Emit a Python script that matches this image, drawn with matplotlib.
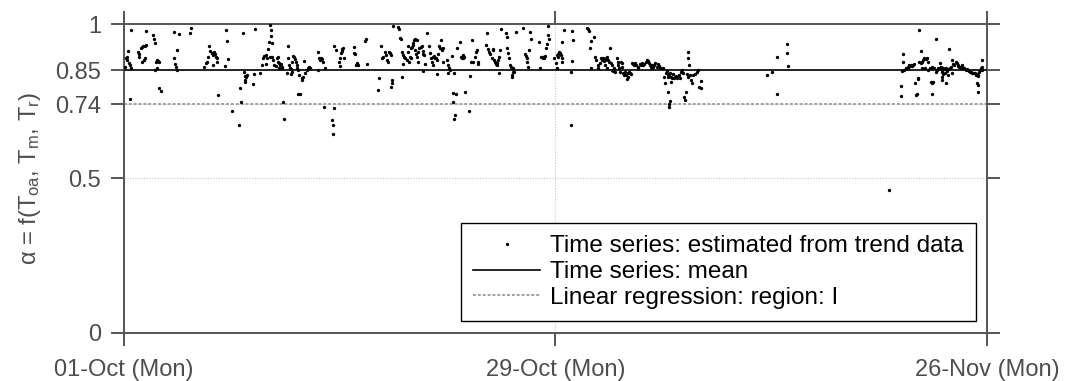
import matplotlib
matplotlib.use('Agg')
import matplotlib.pyplot as plt
import matplotlib.dates as mdates
import pandas as pd

plt.rcParams['font.family'] = ['Liberation Sans', 'DejaVu Sans']

# periodo e tick
data_inizio = '2018-10-01'
data_fine = '2018-11-26'
xtick_date = ['2018-10-01', '2018-10-29', '2018-11-26']
ytick_valori = [0, 0.5, 0.74, 0.85, 1]
ytick_etichette = ['0', '0.5', '0.74', '0.85', '1']

alpha_media = 0.85        # Time series: mean
alpha_regressione = 0.74  # Linear regression: region: I

# (giorni dal 01-Oct, alpha), una lista per tratto
tratto_1 = [
    (0.45, 0.981), (1.41, 0.976), (1.90, 0.966), (1.92, 0.951), (1.99, 0.939), (3.22, 0.973),
    (3.57, 0.968), (4.35, 0.986), (4.30, 0.970), (6.60, 0.979), (6.70, 0.944), (7.74, 0.970),
    (8.48, 0.983), (0.13, 0.889), (0.22, 0.894), (0.26, 0.913), (0.17, 0.883), (0.30, 0.873),
    (0.39, 0.867), (0.43, 0.859), (0.06, 0.862), (0.93, 0.910), (0.99, 0.902), (1.08, 0.921),
    (1.17, 0.924), (1.25, 0.929), (1.36, 0.930), (1.43, 0.932), (0.99, 0.894), (1.19, 0.878),
    (1.30, 0.883), (1.34, 0.889), (2.08, 0.878), (2.16, 0.883), (2.23, 0.880), (2.29, 0.878),
    (2.03, 0.851), (2.12, 0.857), (2.29, 0.792), (2.38, 0.783), (0.39, 0.757), (3.24, 0.891),
    (3.31, 0.869), (3.37, 0.862), (3.42, 0.851), (3.46, 0.916), (5.21, 0.862), (5.30, 0.873),
    (5.41, 0.878), (5.47, 0.894), (5.54, 0.929), (5.58, 0.913), (5.69, 0.905), (5.80, 0.900),
    (5.90, 0.902), (5.97, 0.894), (6.01, 0.889), (5.84, 0.910), (5.75, 0.867), (6.06, 0.878),
    (6.10, 0.770), (6.57, 0.865), (6.73, 0.886), (7.53, 0.792), (7.57, 0.746), (6.99, 0.718),
    (7.46, 0.673), (7.79, 0.846), (7.85, 0.833), (7.92, 0.829), (7.98, 0.835), (7.87, 0.819),
    (7.87, 0.811), (8.39, 0.806), (8.44, 0.837), (8.82, 0.843), (8.98, 0.867), (9.04, 0.889),
    (9.08, 0.897),
]
tratto_2 = [
    (9.47, 0.997), (9.54, 0.980), (9.54, 0.962), (9.41, 0.943), (9.63, 0.939), (9.32, 0.918),
    (9.19, 0.900), (9.26, 0.889), (9.19, 0.870), (9.47, 0.894), (9.63, 0.892), (9.69, 0.883),
    (9.76, 0.867), (9.84, 0.865), (9.93, 0.889), (9.97, 0.878), (10.02, 0.894), (10.06, 0.873),
    (10.12, 0.867), (10.19, 0.869), (10.23, 0.862), (10.27, 0.856), (10.06, 0.856), (10.62, 0.929),
    (10.66, 0.889), (10.73, 0.867), (10.77, 0.859), (10.82, 0.853), (10.88, 0.846), (10.56, 0.840),
    (10.84, 0.837), (10.92, 0.878), (10.99, 0.897), (11.05, 0.894), (11.10, 0.887), (11.14, 0.878),
    (11.20, 0.867), (11.25, 0.856), (11.31, 0.851), (11.38, 0.835), (11.53, 0.826), (11.57, 0.819),
    (11.64, 0.829), (11.75, 0.840), (11.85, 0.851), (11.92, 0.859), (12.01, 0.862), (12.07, 0.856),
    (11.70, 0.880), (11.31, 0.775), (11.42, 0.774), (10.32, 0.746), (10.38, 0.691), (12.61, 0.908),
    (12.65, 0.889), (12.72, 0.883), (12.78, 0.889), (12.83, 0.886), (12.89, 0.878), (12.57, 0.851),
    (13.04, 0.856), (12.98, 0.731), (13.63, 0.727), (13.52, 0.689), (13.58, 0.673), (13.54, 0.644),
    (13.65, 0.929), (13.74, 0.916), (14.02, 0.889), (14.08, 0.905), (14.12, 0.912), (14.17, 0.918),
    (14.23, 0.921), (14.30, 0.889), (14.02, 0.865), (13.95, 0.878), (14.95, 0.927), (14.93, 0.907),
    (14.99, 0.902), (15.10, 0.873), (15.03, 0.867), (15.21, 0.867), (15.68, 0.953), (15.64, 0.945),
    (15.75, 0.869), (16.68, 0.929), (16.72, 0.889), (16.83, 0.894), (16.94, 0.908), (16.98, 0.900),
    (17.05, 0.883), (17.11, 0.878), (17.20, 0.908), (17.26, 0.907), (17.33, 0.900), (16.55, 0.826),
    (16.50, 0.786), (17.33, 0.797), (17.37, 0.808), (17.41, 0.819), (17.48, 0.995), (17.80, 0.989),
    (17.87, 0.984), (17.91, 0.956), (17.98, 0.951), (18.02, 0.908), (18.08, 0.869), (18.13, 0.900),
    (18.19, 0.894), (18.23, 0.889), (18.34, 0.883), (18.41, 0.930), (18.45, 0.910), (18.49, 0.878),
    (18.06, 0.828),
]
tratto_3 = [
    (18.60, 0.921), (18.67, 0.927), (18.73, 0.932), (18.82, 0.948), (18.88, 0.951), (19.04, 0.948),
    (18.78, 0.937), (18.88, 0.916), (18.95, 0.902), (18.99, 0.894), (19.10, 0.908), (19.17, 0.921),
    (19.25, 0.927), (19.32, 0.929), (19.38, 0.912), (19.43, 0.902), (19.47, 0.900), (19.10, 0.878),
    (18.62, 0.889), (18.56, 0.894), (19.68, 0.970), (19.81, 0.929), (19.86, 0.905), (19.90, 0.889),
    (19.97, 0.878), (20.03, 0.867), (20.07, 0.894), (20.12, 0.897), (20.18, 0.891), (20.25, 0.889),
    (20.29, 0.883), (20.40, 0.902), (20.46, 0.930), (20.51, 0.921), (20.55, 0.948), (20.61, 0.916),
    (20.68, 0.921), (20.72, 0.878), (19.53, 0.869), (19.43, 0.848), (20.33, 0.838), (20.98, 0.885),
    (21.05, 0.867), (21.11, 0.856), (21.26, 0.896), (21.16, 0.851), (21.00, 0.843), (21.42, 0.840),
    (21.59, 0.921), (21.80, 0.941), (21.85, 0.894), (21.91, 0.891), (21.98, 0.900), (22.06, 0.894),
    (22.02, 0.889), (21.33, 0.778), (21.52, 0.774), (21.37, 0.748), (22.13, 0.781), (21.48, 0.707),
    (21.44, 0.691), (22.41, 0.720), (22.56, 0.948), (22.50, 0.878), (22.63, 0.878), (22.78, 0.894),
    (22.84, 0.910), (22.89, 0.916), (22.95, 0.878), (22.99, 0.869), (22.45, 0.833), (23.49, 0.932),
    (23.58, 0.970), (23.64, 0.918), (23.71, 0.910), (23.75, 0.902), (23.86, 0.889), (23.92, 0.916),
    (23.97, 0.918), (24.01, 0.883), (24.08, 0.878), (24.14, 0.869), (24.18, 0.867), (24.23, 0.873),
    (24.29, 0.883), (24.36, 0.894), (24.40, 0.916), (24.31, 0.843), (24.44, 0.983), (24.79, 0.970),
    (24.83, 0.959), (24.88, 0.923), (24.94, 0.905), (25.01, 0.891), (25.05, 0.867), (25.09, 0.860),
    (25.16, 0.856), (25.22, 0.846), (25.27, 0.859), (25.18, 0.835), (25.20, 0.828), (25.31, 0.846),
    (25.44, 0.975), (25.91, 0.986), (26.02, 0.902), (26.09, 0.897), (26.13, 0.891), (26.17, 0.878),
    (26.24, 0.862), (26.30, 0.916), (26.35, 0.975), (26.39, 0.953), (27.00, 0.856), (26.95, 0.943),
    (27.04, 0.894), (27.10, 0.892), (27.17, 0.889), (27.21, 0.894), (27.26, 0.891), (27.32, 0.897),
    (27.39, 0.921), (27.43, 0.934), (27.54, 0.964), (27.60, 0.953), (27.51, 0.994), (27.90, 0.889),
]
tratto_4 = [
    (28.08, 0.900), (28.14, 0.894), (28.19, 0.902), (28.23, 0.908), (28.29, 0.905), (28.36, 0.900),
    (28.40, 0.889), (28.45, 0.878), (28.01, 0.873), (28.08, 0.859), (28.45, 0.943), (28.58, 0.980),
    (29.05, 0.978), (29.16, 0.948), (29.05, 0.881), (29.01, 0.846), (29.01, 0.673), (30.02, 0.986),
    (30.09, 0.983), (30.18, 0.977), (30.31, 0.945), (30.52, 0.957), (30.24, 0.921), (30.31, 0.856),
    (30.57, 0.894), (30.63, 0.883), (30.74, 0.867), (30.78, 0.856), (30.89, 0.873), (30.95, 0.889),
    (31.04, 0.883), (31.11, 0.891), (31.17, 0.880), (31.21, 0.883), (31.26, 0.889), (31.32, 0.894),
    (31.39, 0.883), (31.21, 0.867), (31.32, 0.859), (31.54, 0.921), (31.47, 0.878), (31.60, 0.873),
    (31.65, 0.867), (31.69, 0.851), (31.76, 0.848), (31.82, 0.856), (31.86, 0.846), (31.97, 0.891),
    (32.04, 0.878), (32.08, 0.867), (32.12, 0.856), (32.19, 0.846), (32.25, 0.878), (32.30, 0.873),
    (32.34, 0.862), (32.40, 0.840), (32.47, 0.835), (32.51, 0.846), (32.56, 0.835), (32.62, 0.822),
    (32.69, 0.829), (32.73, 0.840), (32.77, 0.846), (32.84, 0.843), (32.90, 0.837), (32.94, 0.873),
    (33.05, 0.869), (33.12, 0.867), (33.16, 0.873), (33.23, 0.867), (33.33, 0.862), (33.38, 0.856),
    (33.49, 0.869), (33.55, 0.867), (33.64, 0.873), (33.70, 0.867), (33.77, 0.869), (33.85, 0.878),
    (33.92, 0.883), (33.98, 0.880), (34.07, 0.873), (34.13, 0.867), (34.20, 0.862), (34.24, 0.867),
    (34.29, 0.859), (34.35, 0.862), (34.42, 0.867), (34.46, 0.873), (34.57, 0.862), (34.63, 0.869),
    (34.72, 0.865), (34.78, 0.859), (34.89, 0.856), (35.00, 0.859), (35.06, 0.829), (35.11, 0.808),
    (35.15, 0.840), (35.22, 0.848), (35.28, 0.837), (35.32, 0.829), (35.37, 0.835), (35.43, 0.843),
    (35.50, 0.829), (35.54, 0.824), (35.65, 0.837), (35.71, 0.826), (35.76, 0.829), (35.82, 0.833),
    (35.89, 0.824), (35.97, 0.829), (36.02, 0.835), (36.08, 0.824), (36.15, 0.846), (36.19, 0.851),
    (36.30, 0.840), (35.32, 0.781), (35.43, 0.751), (35.37, 0.740), (35.39, 0.732), (35.50, 0.813),
    (36.36, 0.765), (36.41, 0.754), (36.45, 0.779), (36.58, 0.910), (36.62, 0.889), (36.67, 0.867),
    (36.54, 0.837), (36.62, 0.829), (36.71, 0.835), (36.79, 0.819), (36.84, 0.808), (36.95, 0.835),
    (37.05, 0.837), (37.16, 0.846), (37.27, 0.851), (37.34, 0.797),
]
tratto_5 = [
    (37.42, 0.815), (37.42, 0.792), (41.71, 0.835), (42.03, 0.846), (42.40, 0.894), (43.00, 0.934),
    (43.05, 0.905), (43.11, 0.865), (42.40, 0.774),
]
tratto_6 = [
    (51.61, 0.980), (52.67, 0.950), (53.56, 0.920), (50.58, 0.903), (51.70, 0.912), (55.70, 0.885),
    (55.40, 0.835), (50.47, 0.848), (50.58, 0.876), (50.64, 0.851), (50.73, 0.856), (50.79, 0.859),
    (50.86, 0.862), (50.90, 0.856), (50.94, 0.867), (51.01, 0.865), (51.07, 0.867), (51.12, 0.865),
    (51.22, 0.867), (51.29, 0.869), (51.59, 0.878), (51.72, 0.873), (51.81, 0.876), (51.87, 0.883),
    (51.94, 0.889), (52.02, 0.887), (52.09, 0.891), (52.15, 0.878), (51.77, 0.856), (51.98, 0.856),
    (52.20, 0.851), (50.42, 0.800), (50.40, 0.767), (51.38, 0.770), (51.44, 0.772), (51.33, 0.808),
    (51.51, 0.824), (51.55, 0.822), (52.37, 0.813), (52.46, 0.808), (52.41, 0.774), (52.52, 0.813),
    (52.31, 0.856), (52.46, 0.862), (52.59, 0.856), (52.67, 0.846), (52.74, 0.851), (52.80, 0.856),
    (52.89, 0.859), (52.95, 0.873), (53.02, 0.862), (53.06, 0.851), (53.11, 0.846), (53.17, 0.859),
    (53.24, 0.854), (53.28, 0.840), (53.32, 0.856), (53.39, 0.848), (53.06, 0.829), (53.11, 0.819),
    (53.17, 0.837), (53.34, 0.808), (53.45, 0.835), (53.50, 0.854), (53.60, 0.856), (53.67, 0.862),
    (53.75, 0.883), (53.71, 0.843), (53.82, 0.869), (53.88, 0.867), (53.97, 0.878), (54.04, 0.873),
    (54.10, 0.867), (54.14, 0.865), (54.19, 0.862), (54.25, 0.862), (54.32, 0.859), (54.36, 0.862),
    (54.40, 0.867), (54.47, 0.859), (54.53, 0.856), (54.62, 0.851), (54.69, 0.854), (54.75, 0.851),
    (54.84, 0.848), (54.90, 0.846), (54.97, 0.846), (55.05, 0.843), (55.12, 0.840), (55.18, 0.843),
    (55.23, 0.840), (55.27, 0.835), (55.33, 0.837), (55.44, 0.833), (55.49, 0.846), (55.55, 0.851),
    (55.62, 0.856), (55.66, 0.862), (55.70, 0.851), (55.33, 0.808), (55.40, 0.803), (55.40, 0.781),
    (49.64, 0.463),
]


def main():
    punti = tratto_1 + tratto_2 + tratto_3 + tratto_4 + tratto_5 + tratto_6
    giorni = [p[0] for p in punti]
    alpha = [p[1] for p in punti]
    tempi = pd.Timestamp(data_inizio) + pd.to_timedelta(giorni, unit='D')

    grigio = '#555555'
    fig = plt.figure(figsize=(10.67, 3.81), dpi=100)
    ax = fig.add_axes([0.1162, 0.126, 0.8088, 0.811])

    ax.plot(tempi, alpha, ls='none', marker='.', ms=2.8, color='k', zorder=4,
            label='Time series: estimated from trend data')
    ax.axhline(alpha_media, color='k', lw=1.2, zorder=3, label='Time series: mean')
    ax.axhline(alpha_regressione, color='#a0a0a0', lw=1.4, ls=(0, (1.5, 1)), zorder=2,
               label='Linear regression: region: I')

    ax.set_xlim(pd.Timestamp(data_inizio), pd.Timestamp(data_fine))
    ax.set_ylim(0, 1)
    ax.set_xticks(pd.to_datetime(xtick_date))
    ax.xaxis.set_major_formatter(mdates.DateFormatter('%d-%b (%a)'))
    ax.set_yticks(ytick_valori, ytick_etichette)
    ax.minorticks_off()
    ax.tick_params(axis='both', direction='out', length=9.5, width=1.4, color=grigio,
                   labelcolor='#4d4d4d', labelsize=17, pad=7, top=True, right=True)
    ax.tick_params(axis='x', pad=9)
    for s in ax.spines.values():
        s.set_color(grigio)
        s.set_linewidth(1.4)

    # griglia tratteggiata leggera
    ax.grid(True, color='#c8c8c8', lw=0.8, ls=(0, (1, 1.5)))
    ax.set_axisbelow(True)

    ax.set_ylabel(r'α = f(T$\mathregular{_{oa}}$, T$\mathregular{_{m}}$, T$\mathregular{_{r}}$)',
                  fontsize=17, color='#4d4d4d')
    ax.yaxis.set_label_coords(-0.094, 0.5)

    leg = ax.legend(loc='lower right', bbox_to_anchor=(0.987, 0.039), borderaxespad=0,
                    fontsize=17.5, fancybox=False, edgecolor='k', framealpha=1,
                    handlelength=2.75, handletextpad=0.4, labelspacing=0.15, borderpad=0.5,
                    numpoints=1)
    leg.get_frame().set_linewidth(1.0)

    fig.savefig('out.png', dpi=100)


if __name__ == "__main__":
    main()
